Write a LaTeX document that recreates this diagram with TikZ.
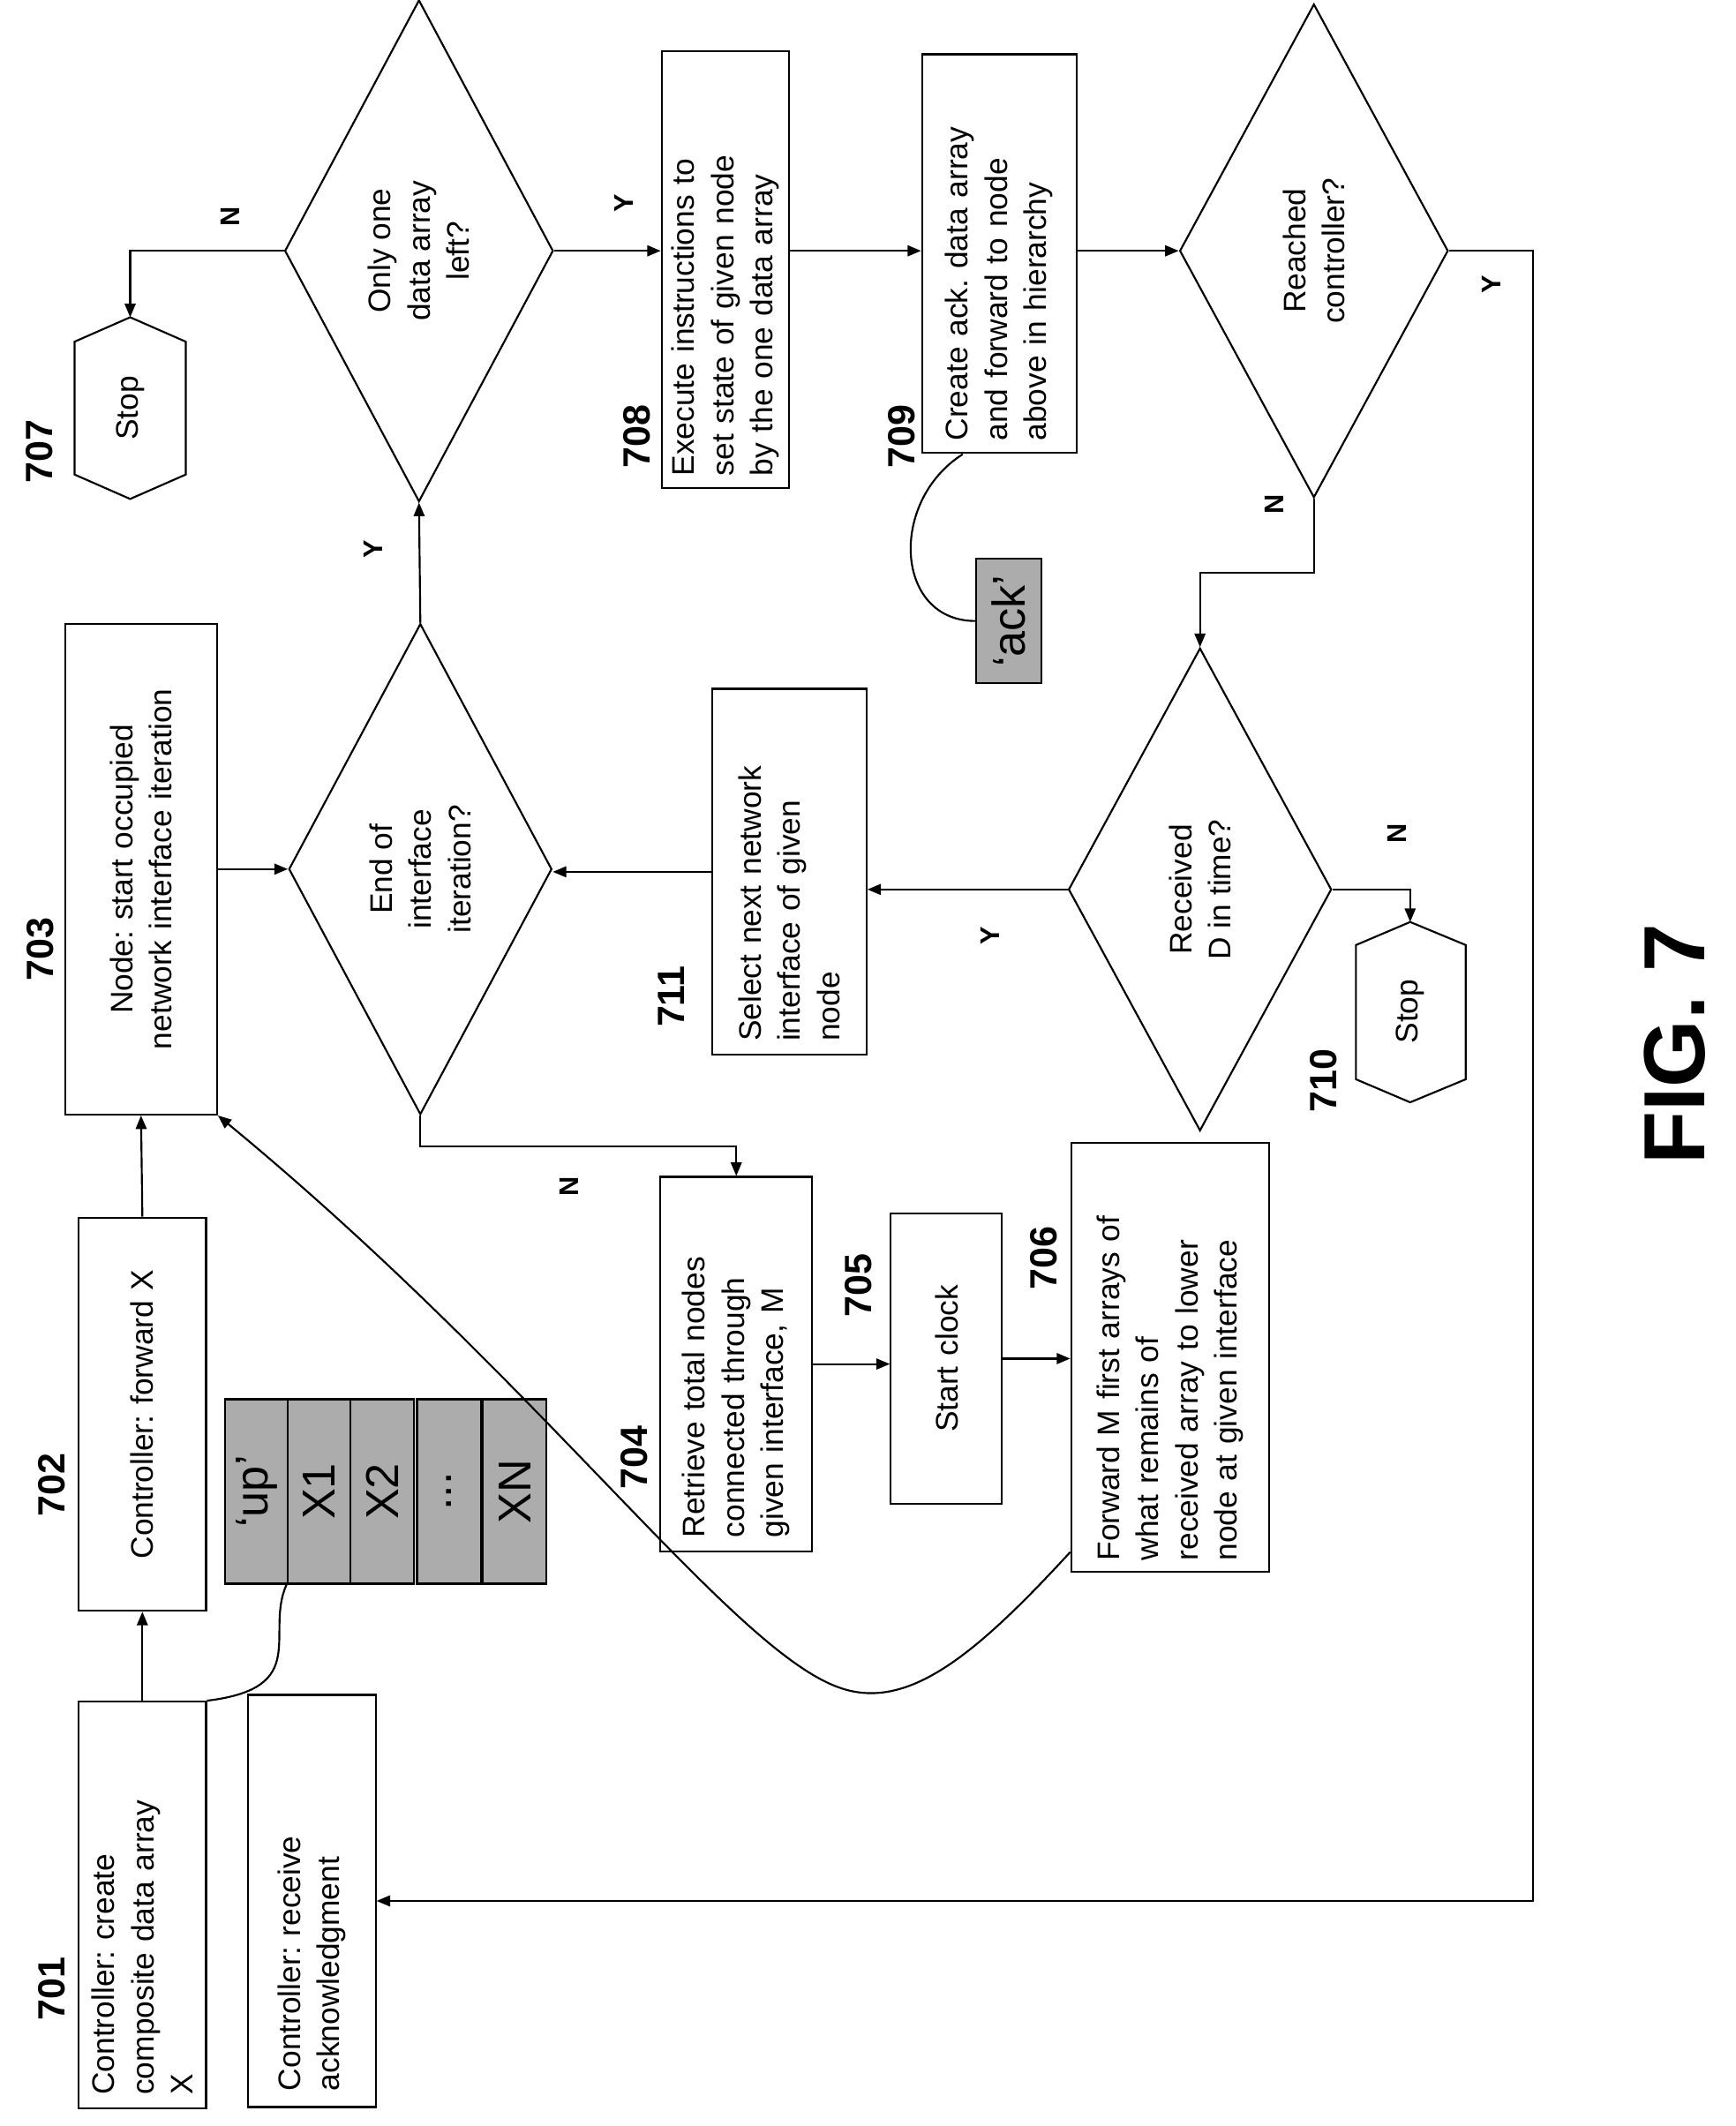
\documentclass[tikz,border=0pt]{standalone}
\usepackage{fontspec}
\setmainfont{Liberation Sans}
\frenchspacing
\usetikzlibrary{shapes.geometric,calc,positioning,arrows.meta}
\tikzset{
  box/.style={draw, rotate=90, inner sep=3pt, font=\fontsize{11.5}{14.5}\selectfont},
  dec/.style={draw, diamond, rotate=90, inner sep=0pt, align=center, font=\fontsize{11.5}{14.5}\selectfont},
  num/.style={rotate=90, font=\bfseries\fontsize{14}{16}\selectfont},
  yn/.style={rotate=90, font=\bfseries\fontsize{10}{12}\selectfont},
  cell/.style={draw, rotate=90, fill=gray!65, minimum width=68pt, minimum height=23.5pt, inner sep=0pt, font=\fontsize{17}{18}\selectfont},
}
\begin{document}
\begin{tikzpicture}[x=0.5pt, y=-0.5pt, >={Triangle[length=5pt,width=4pt]}, line width=0.7pt]
\useasboundingbox (0,0) rectangle (1280,1568);
% boxes
\node[box, minimum width=150pt, minimum height=47pt, text width=140pt, align=left] (c701) at (105,1405) {Controller: create\\composite data array\\X};
\node[box, minimum width=152pt, minimum height=47pt, text width=140pt, align=left] (cRecv) at (230,1402) {Controller: receive\\acknowledgment};
\node[box, minimum width=145pt, minimum height=47pt, text width=135pt, align=center] (c702) at (105,1043) {Controller: forward X};
\node[box, minimum width=181pt, minimum height=56pt, text width=170pt, align=center] (c703) at (104,641) {Node: start occupied\\network interface iteration};
\node[box, minimum width=161pt, minimum height=47pt, text width=152pt, align=left] (c708) at (535,199) {Execute instructions to\\set state of given node\\by the one data array};
\node[box, minimum width=147pt, minimum height=57pt, text width=138pt, align=left] (c709) at (737,187) {Create ack. data array\\and forward to node\\above in hierarchy};
\node[box, minimum width=135pt, minimum height=57pt, text width=125pt, align=left] (c711) at (582,643) {Select next network\\interface of given\\node};
\node[box, minimum width=138pt, minimum height=56pt, text width=128pt, align=left] (c704) at (543,1006) {Retrieve total nodes\\connected through\\given interface, M};
\node[box, minimum width=107pt, minimum height=41pt, text width=97pt, align=center] (c705) at (698,1002) {Start clock};
\node[box, minimum width=158pt, minimum height=73pt, text width=150pt, align=left] (c706) at (863,1001) {Forward M first arrays of\\what remains of\\received array to lower\\node at given interface};
% decisions
\node[dec, minimum width=181pt, minimum height=97pt] (dEnd) at (310,641) {End of\\interface\\iteration?};
\node[dec, minimum width=185pt, minimum height=99pt] (dOnly) at (309,185) {Only one\\data array\\left?};
\node[dec, minimum width=182pt, minimum height=99pt] (dReach) at (969,185) {Reached\\controller?};
\node[dec, minimum width=178pt, minimum height=97pt] (dRecv) at (885,656) {Received\\D in time?};
% stops
\draw (96,234) -- (137,252) -- (137,350) -- (96,368) -- (55,350) -- (55,252) -- cycle;
\node[rotate=90, font=\fontsize{11.5}{14}\selectfont] (s707) at (96,301) {Stop};
\coordinate (s707t) at (96,234);
\draw (1040,680) -- (1081,697) -- (1081,796) -- (1040,813) -- (1000,796) -- (1000,697) -- cycle;
\node[rotate=90, font=\fontsize{11.5}{14}\selectfont] (s710) at (1040,746) {Stop};
\coordinate (s710t) at (1040,680);
% array X and ack
\node[cell] (cUp) at (189.5,1100) {`up'};
\node[cell] (cX1) at (235.5,1100) {X1};
\node[cell] (cX2) at (282,1100) {X2};
\node[cell] (cDots) at (331,1100) {...};
\node[cell] (cXN) at (379.5,1100) {XN};
\node[cell, minimum width=46pt, minimum height=24pt] (ack) at (744,458) {`ack'};
% numbers
\node[num] at (38,1467) {701};
\node[num] at (38,1095) {702};
\node[num] at (30,700) {703};
\node[num] at (468,1075) {704};
\node[num] at (633,948) {705};
\node[num] at (770,928) {706};
\node[num] at (29,333) {707};
\node[num] at (470,322) {708};
\node[num] at (665,322) {709};
\node[num] at (976,797) {710};
\node[num] at (495,735) {711};
\node[rotate=90, font=\bfseries\fontsize{32}{34}\selectfont] (fig) at (1235,770) {FIG. 7};
% connectors
\draw[->] (c701.east) -- (c702.west);
\draw[->] (c702.east) -- (c703.west);
\draw[->] (c703.south) -- (dEnd.north);
\draw[->] (dEnd.east) -- (dOnly.west);
\draw[->] (dEnd.west) -- ++(0,23) -| (c704.east);
\draw[->] (dOnly.north) -| (s707t);
\draw[->] (dOnly.south) -- (c708.north |- dOnly.south);
\draw[->] (c708.south |- dOnly.south) -- (c709.north |- dOnly.south);
\draw[->] (c709.south |- dReach.north) -- (dReach.north);
\draw[->] (dReach.west) -- ++(0,55) -| (dRecv.east);
\draw[->] (dReach.south) -- ++(62,0) |- (cRecv.south);
\draw[->] (dRecv.north) -- (dRecv.north -| c711.south);
\draw[->] (dRecv.south) -| (s710t);
\draw[->] (c711.north) -- (c711.north -| dEnd.south);
\draw[->] (c704.south) -- (c704.south -| c705.north);
\draw[->] (c705.south) -- (c705.south -| c706.north);
\draw[->] ($(c706.north west)+(0,-15)$) .. controls (720,1220) and (670,1262) .. (620,1245)
  .. controls (540,1218) and (400,1020) .. (c703.south west);
\draw (c701.south east) .. controls (230,1245) and (195,1205) .. (cX1.north west);
\draw (710,335) .. controls (655,370) and (660,458) .. (ack.north);
% Y / N
\node[yn] at (275,405) {Y};
\node[yn] at (420,875) {N};
\node[yn] at (170,160) {N};
\node[yn] at (460,150) {Y};
\node[yn] at (940,372) {N};
\node[yn] at (1100,210) {Y};
\node[yn] at (730,690) {Y};
\node[yn] at (1030,615) {N};
\end{tikzpicture}
\end{document}
